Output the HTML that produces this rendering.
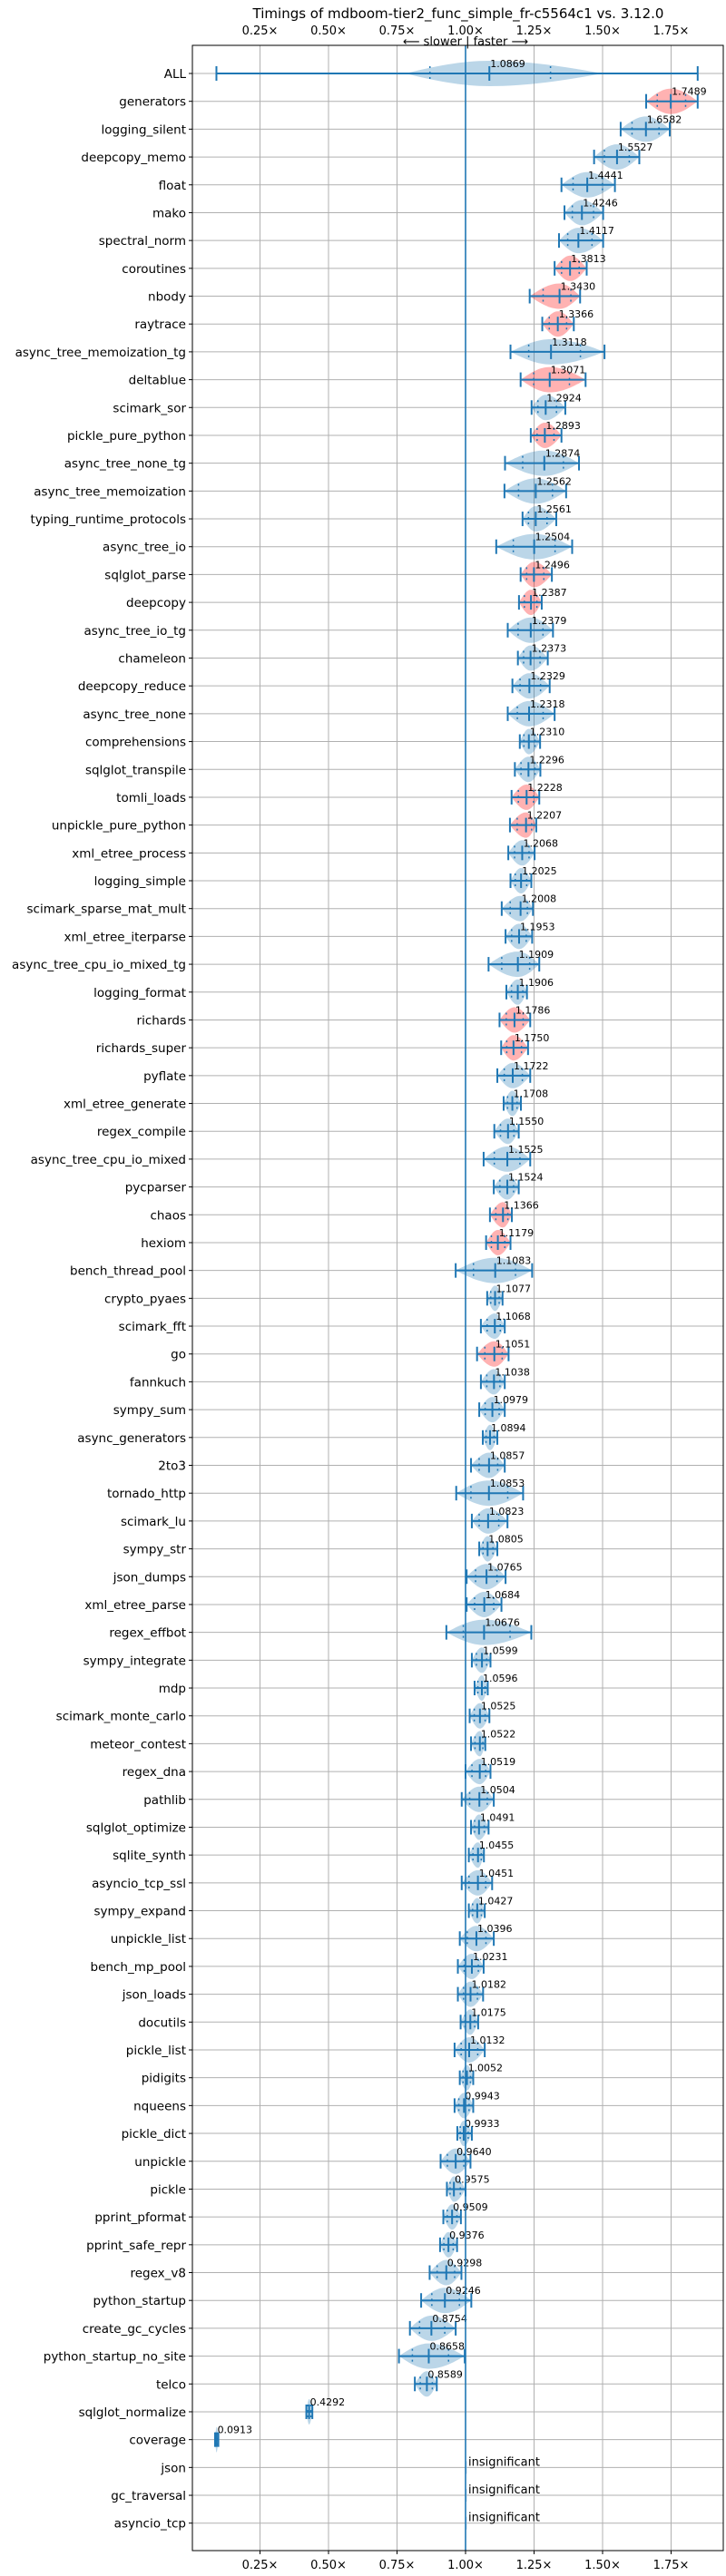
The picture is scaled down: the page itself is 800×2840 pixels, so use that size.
<!DOCTYPE html>
<html><head><meta charset="utf-8"><title>Timings</title>
<style>
html,body{margin:0;padding:0;background:#fff;}
svg{display:block;font-family:"DejaVu Sans","Liberation Sans",sans-serif;}
</style></head>
<body>
<svg id="chart" width="800" height="2840" viewBox="0 0 800 2840" xmlns="http://www.w3.org/2000/svg">
<text x="505" y="20" font-size="15" text-anchor="middle" fill="#000">Timings of mdboom-tier2_func_simple_fr-c5564c1 vs. 3.12.0</text>
<g id="grid"></g>
<g id="marks"></g>
<g id="axes"></g>
</svg>
<script>
const benchmarks = ["ALL","generators","logging_silent","deepcopy_memo","float","mako","spectral_norm","coroutines","nbody","raytrace","async_tree_memoization_tg","deltablue","scimark_sor","pickle_pure_python","async_tree_none_tg","async_tree_memoization","typing_runtime_protocols","async_tree_io","sqlglot_parse","deepcopy","async_tree_io_tg","chameleon","deepcopy_reduce","async_tree_none","comprehensions","sqlglot_transpile","tomli_loads","unpickle_pure_python","xml_etree_process","logging_simple","scimark_sparse_mat_mult","xml_etree_iterparse","async_tree_cpu_io_mixed_tg","logging_format","richards","richards_super","pyflate","xml_etree_generate","regex_compile","async_tree_cpu_io_mixed","pycparser","chaos","hexiom","bench_thread_pool","crypto_pyaes","scimark_fft","go","fannkuch","sympy_sum","async_generators","2to3","tornado_http","scimark_lu","sympy_str","json_dumps","xml_etree_parse","regex_effbot","sympy_integrate","mdp","scimark_monte_carlo","meteor_contest","regex_dna","pathlib","sqlglot_optimize","sqlite_synth","asyncio_tcp_ssl","sympy_expand","unpickle_list","bench_mp_pool","json_loads","docutils","pickle_list","pidigits","nqueens","pickle_dict","unpickle","pickle","pprint_pformat","pprint_safe_repr","regex_v8","python_startup","create_gc_cycles","python_startup_no_site","telco","sqlglot_normalize","coverage","json","gc_traversal","asyncio_tcp"];
const medians = [1.0869,1.7489,1.6582,1.5527,1.4441,1.4246,1.4117,1.3813,1.3430,1.3366,1.3118,1.3071,1.2924,1.2893,1.2874,1.2562,1.2561,1.2504,1.2496,1.2387,1.2379,1.2373,1.2329,1.2318,1.2310,1.2296,1.2228,1.2207,1.2068,1.2025,1.2008,1.1953,1.1909,1.1906,1.1786,1.1750,1.1722,1.1708,1.1550,1.1525,1.1524,1.1366,1.1179,1.1083,1.1077,1.1068,1.1051,1.1038,1.0979,1.0894,1.0857,1.0853,1.0823,1.0805,1.0765,1.0684,1.0676,1.0599,1.0596,1.0525,1.0522,1.0519,1.0504,1.0491,1.0455,1.0451,1.0427,1.0396,1.0231,1.0182,1.0175,1.0132,1.0052,0.9943,0.9933,0.9640,0.9575,0.9509,0.9376,0.9298,0.9246,0.8754,0.8658,0.8589,0.4292,0.0913,null,null,null];
const mins = [0.091,1.659,1.566,1.469,1.350,1.361,1.341,1.325,1.234,1.280,1.164,1.201,1.241,1.238,1.144,1.142,1.208,1.112,1.201,1.195,1.154,1.191,1.171,1.154,1.198,1.180,1.168,1.162,1.156,1.164,1.132,1.146,1.084,1.149,1.124,1.130,1.116,1.139,1.105,1.066,1.103,1.089,1.075,0.964,1.079,1.056,1.042,1.056,1.050,1.063,1.020,0.966,1.023,1.050,1.004,1.004,0.930,1.023,1.033,1.015,1.020,1.000,0.986,1.020,1.012,0.986,1.012,0.979,0.972,0.972,0.982,0.960,0.979,0.960,0.970,0.909,0.932,0.919,0.907,0.869,0.838,0.797,0.757,0.815,0.419,0.086,null,null,null];
const maxs = [1.847,1.847,1.745,1.634,1.545,1.502,1.502,1.442,1.418,1.395,1.507,1.438,1.364,1.350,1.414,1.367,1.331,1.389,1.315,1.278,1.319,1.300,1.307,1.325,1.272,1.273,1.269,1.258,1.252,1.240,1.246,1.243,1.269,1.224,1.236,1.228,1.236,1.202,1.194,1.236,1.194,1.169,1.164,1.243,1.135,1.143,1.157,1.143,1.143,1.116,1.143,1.210,1.153,1.116,1.146,1.131,1.240,1.091,1.081,1.087,1.072,1.091,1.103,1.084,1.067,1.097,1.070,1.103,1.066,1.064,1.046,1.070,1.028,1.028,1.023,1.018,1.000,0.983,0.969,0.985,1.021,0.964,0.997,0.895,0.441,0.098,null,null,null];
const slowerRows = ["generators","coroutines","nbody","raytrace","deltablue","pickle_pure_python","sqlglot_parse","deepcopy","tomli_loads","unpickle_pure_python","richards","richards_super","chaos","hexiom","go"];
const allViolinRange = [0.78, 1.50];
const allQuartiles = [0.87, 1.31];
const tickValues = [0.25,0.5,0.75,1.0,1.25,1.5,1.75];
const tickLabels = ["0.25×","0.50×","0.75×","1.00×","1.25×","1.50×","1.75×"];

const NS="http://www.w3.org/2000/svg";
const L=212,R=797,T=50,B=2812;
const xs=v=>513+(v-1)*302;
const ys=i=>81+i*30.69;
function mk(tag,attrs,parent){const e=document.createElementNS(NS,tag);for(const k in attrs)e.setAttribute(k,attrs[k]);parent.appendChild(e);return e;}
const grid=document.getElementById('grid'),marks=document.getElementById('marks'),axes=document.getElementById('axes');
const BLUE="#1f77b4";

tickValues.forEach((v,k)=>{
  const l=mk('line',{x1:xs(v),x2:xs(v),y1:T,y2:B,stroke:'#b0b0b0','stroke-width':1},grid);
  
  
});
benchmarks.forEach((b,i)=>{
  const l=mk('line',{x1:L,x2:R,y1:ys(i),y2:ys(i),stroke:'#b0b0b0','stroke-width':1},grid);
  
  
});

function violinPath(lo,med,hi,cy,W){
  const N=16;let top=[],bot=[];
  for(let k=0;k<=N;k++){const v=lo+(med-lo)*k/N;const h=W*Math.sin(Math.PI/2*k/N);top.push([xs(v),cy-h]);bot.push([xs(v),cy+h]);}
  for(let k=1;k<=N;k++){const v=med+(hi-med)*k/N;const h=W*Math.cos(Math.PI/2*k/N);top.push([xs(v),cy-h]);bot.push([xs(v),cy+h]);}
  const pts=top.concat(bot.reverse());
  return 'M'+pts.map(p=>p[0].toFixed(1)+','+p[1].toFixed(1)).join('L')+'Z';
}

benchmarks.forEach((b,i)=>{
  const cy=ys(i);
  const g=mk('g',{},marks);
  
  
  const med=medians[i];
  if(med===null){
    const l=mk('line',{x1:xs(1)+0.5,x2:xs(1)+0.5,y1:cy-7,y2:cy+7,stroke:'#bcd5ea','stroke-width':2},g);
    
    
    const t=mk('text',{x:xs(1)+3,y:cy-2,'font-size':13,fill:'#000'},g);
    t.textContent='insignificant';
    
    
    return;
  }
  const lo=mins[i],hi=maxs[i];
  const red=slowerRows.indexOf(b)>=0;
  let vlo=lo,vhi=hi;
  if(i===0){vlo=allViolinRange[0];vhi=allViolinRange[1];}
  const p=mk('path',{d:violinPath(vlo,med,vhi,cy,14),fill:red?'rgba(255,0,0,0.3)':'rgba(31,119,180,0.3)',stroke:'none'},g);
  
  
  let qs=[med-(med-lo)*0.55,med+(hi-med)*0.55];
  if(i===0) qs=allQuartiles;
  qs.forEach(q=>{
    const l=mk('line',{x1:xs(q),x2:xs(q),y1:cy-8,y2:cy+8,stroke:BLUE,'stroke-width':1.5,'stroke-dasharray':'2,4'},g);
    
    
  });
  const w=mk('line',{x1:xs(lo),x2:xs(hi),y1:cy,y2:cy,stroke:BLUE,'stroke-width':2},g);
  
  
  [lo,med,hi].forEach(v=>{
    const l=mk('line',{x1:xs(v),x2:xs(v),y1:cy-8,y2:cy+8,stroke:BLUE,'stroke-width':2},g);
    
    
  });
  const t=mk('text',{x:xs(med)+1,y:cy-7,'font-size':11,fill:'#000'},g);
  t.textContent=med.toFixed(4);
  
  
});

const bl=mk('line',{x1:xs(1),x2:xs(1),y1:T,y2:B,stroke:BLUE,'stroke-width':1.6},axes);


const fr=mk('rect',{x:L,y:T,width:R-L,height:B-T,fill:'none',stroke:'#000','stroke-width':1},axes);


tickValues.forEach((v,k)=>{
  const a=mk('text',{x:xs(v),y:38,'font-size':13,'text-anchor':'middle',fill:'#000'},axes);
  a.textContent=tickLabels[k];
  
  
  const b=mk('text',{x:xs(v),y:2832,'font-size':13,'text-anchor':'middle',fill:'#000'},axes);
  b.textContent=tickLabels[k];
  
  
  const tk=mk('line',{x1:xs(v),x2:xs(v),y1:B,y2:B+4,stroke:'#000','stroke-width':1},axes);
  
  
});
benchmarks.forEach((b,i)=>{
  const t=mk('text',{x:205,y:ys(i)+5,'font-size':13.5,'text-anchor':'end',fill:'#000'},axes);
  t.textContent=b;
  
  
  const tk=mk('line',{x1:L-4,x2:L,y1:ys(i),y2:ys(i),stroke:'#000','stroke-width':1},axes);
  
  
});
const sf=mk('text',{x:xs(1),y:50,'font-size':13,'text-anchor':'middle',fill:'#000'},axes);
sf.textContent='⟵ slower | faster ⟶';


</script>
</body></html>
